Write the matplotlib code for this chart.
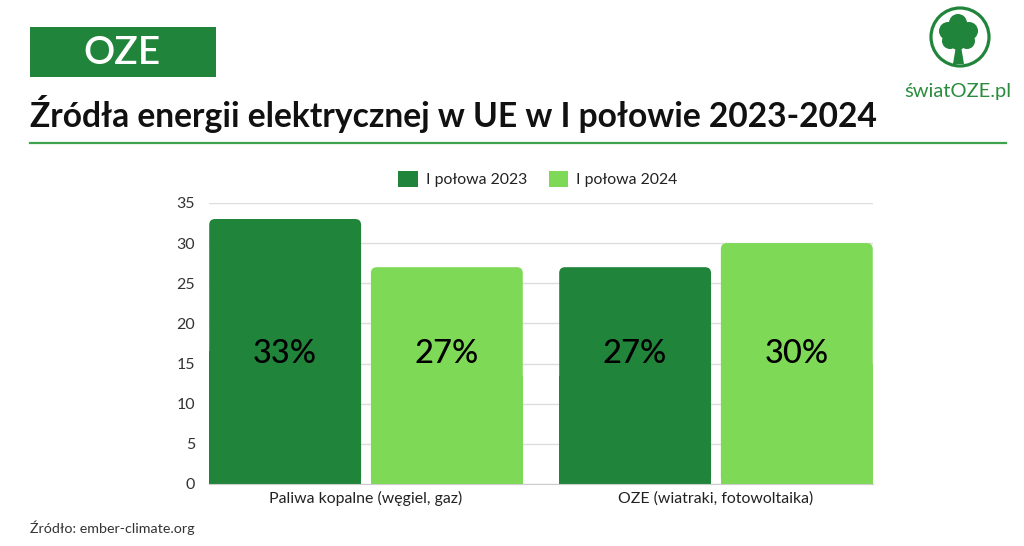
import numpy as np
import matplotlib.pyplot as plt
from matplotlib.patches import FancyBboxPatch, Rectangle, Circle, Polygon, Patch

# Data
categories = ["Paliwa kopalne (węgiel, gaz)", "OZE (wiatraki, fotowoltaika)"]
series_names = ["I połowa 2023", "I połowa 2024"]
values_2023 = [33, 27]
values_2024 = [27, 30]
y_ticks = [0, 5, 10, 15, 20, 25, 30, 35]

dark = "#20853a"
light = "#7ed957"
line_green = "#3fa34d"

plt.rcParams["font.family"] = ["Lato", "DejaVu Sans"]

fig = plt.figure(figsize=(10.24, 5.46), dpi=100)

# overlay in pixel coordinates for header / logo / footer
deco = fig.add_axes([0, 0, 1, 1])
deco.set_xlim(0, 1024)
deco.set_ylim(546, 0)
deco.axis("off")

deco.add_patch(Rectangle((30, 27), 186, 50, fc=dark, ec="none"))
deco.text(122, 53, "OZE", color="white", fontsize=28, fontweight="semibold",
          ha="center", va="center")
deco.text(30, 127, "Źródła energii elektrycznej w UE w I połowie 2023-2024",
          fontsize=24.2, fontweight="bold", color="#111111", ha="left", va="baseline")
deco.plot([30, 1006], [143, 143], color=line_green, lw=1.6)

# logo
deco.add_patch(Circle((960, 37), 29, fill=False, ec=dark, lw=2.3))
for cx, cy, r in [(958, 33, 13), (948, 31, 9), (969, 31, 9), (958, 23, 9),
                  (950, 41, 8), (967, 41, 8), (958, 42, 8)]:
    deco.add_patch(Circle((cx, cy), r, fc=dark, ec="none"))
deco.add_patch(Polygon([(953, 64), (956, 46), (961, 46), (964, 64)], fc=dark, ec="none"))
deco.text(958, 91, "światOZE.pl", color="#2a8c3c", fontsize=14.5,
          ha="center", va="center")

deco.text(30, 528, "Źródło: ember-climate.org", fontsize=10.3, color="#333333",
          ha="left", va="center")

# main chart
ax = fig.add_axes([0.2041, 0.1136, 0.6484, 0.5147])
ax.set_facecolor("none")
x = np.arange(len(categories))
w = 0.434
off = 0.231
bars1 = ax.bar(x - off, values_2023, w, color=dark)
bars2 = ax.bar(x + off, values_2024, w, color=light)

for bars, col in [(bars1, dark), (bars2, light)]:
    for bar in bars:
        bar.set_visible(False)
        x0, y0 = bar.get_x(), bar.get_y()
        bw, bh = bar.get_width(), bar.get_height()
        ax.add_patch(FancyBboxPatch((x0, y0), bw, bh,
                                    boxstyle="round,pad=0,rounding_size=0.017",
                                    mutation_aspect=43.6, fc=col, ec="none", zorder=2))
        ax.add_patch(Rectangle((x0, y0), bw, bh / 2, fc=col, ec="none", zorder=2))
        ax.text(x0 + bw / 2, 16.2, f"{bh:.0f}%", ha="center", va="center",
                fontsize=23.5, fontweight="medium", color="#000000", zorder=3)

ax.set_xlim(-0.4486, 1.4486)
ax.set_ylim(0, 35)
ax.set_yticks(y_ticks)
ax.set_xticks(x)
ax.set_xticklabels(categories)
ax.grid(axis="y", color="#dddddd", lw=1, zorder=0)
ax.set_axisbelow(True)
for s in ["top", "right", "left"]:
    ax.spines[s].set_visible(False)
ax.spines["bottom"].set_color("#cccccc")
ax.tick_params(axis="y", length=0, pad=10, labelsize=11.5, labelcolor="#333333")
ax.tick_params(axis="x", length=0, pad=5, labelsize=11.4, labelcolor="#222222")

handles = [Patch(fc=dark, ec="none"), Patch(fc=light, ec="none")]
fig.legend(handles, series_names, loc="center", bbox_to_anchor=(538 / 1024, 1 - 179 / 546),
           ncol=2, frameon=False, fontsize=11.4, handlelength=1.25, handleheight=1.25,
           handletextpad=0.5, columnspacing=1.35, labelcolor="#222222")

fig.savefig("out.png", dpi=100, facecolor="white")
